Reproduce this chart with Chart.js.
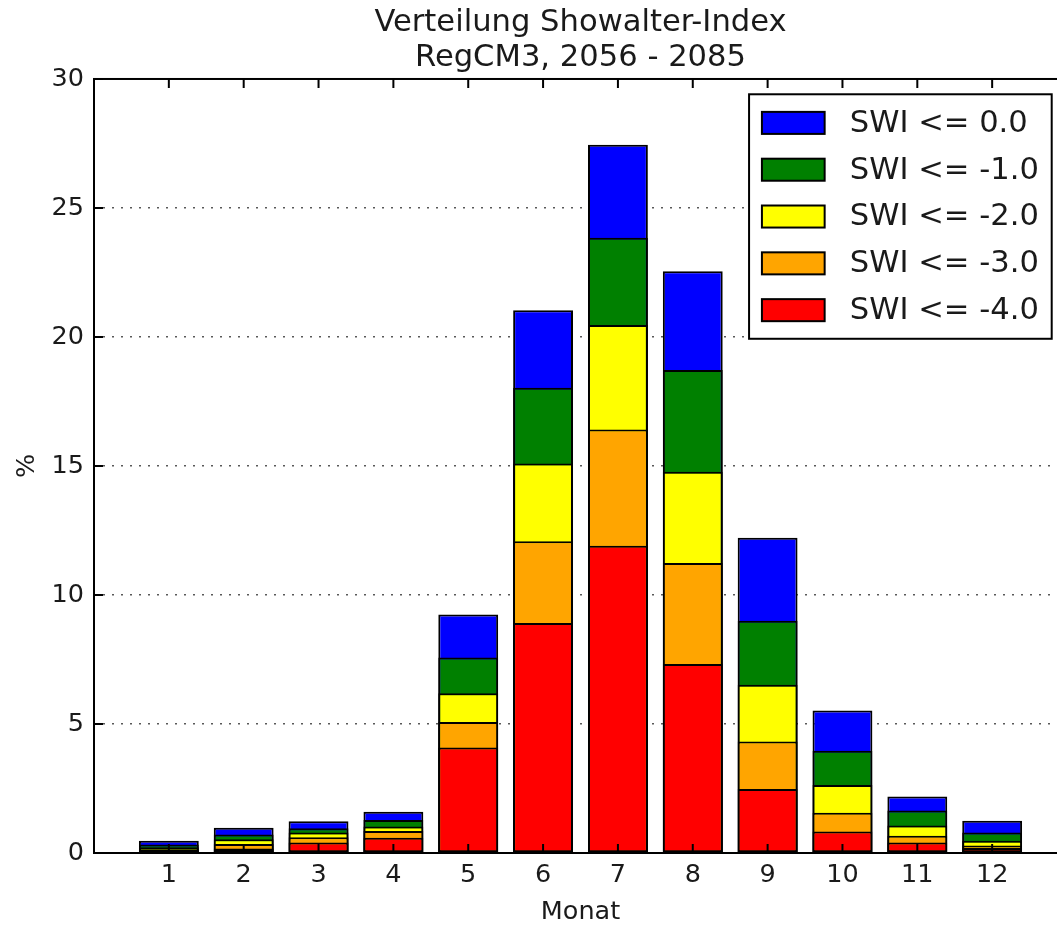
<!DOCTYPE html>
<html>
<head>
<meta charset="utf-8">
<script src="https://cdn.jsdelivr.net/npm/chart.js@4.4.1/dist/chart.umd.min.js"></script>
<style>
  html, body { margin: 0; padding: 0; background: #fff; }
  #wrap { width: 1057px; height: 928px; overflow: hidden; }
  canvas { display: block; }
</style>
</head>
<body>
<div id="wrap"><canvas id="myChart" width="1080" height="928"></canvas></div>
<script>
// Monate
const monate = [1, 2, 3, 4, 5, 6, 7, 8, 9, 10, 11, 12];
const yTicks = [0, 5, 10, 15, 20, 25, 30];

// kumulierte Anteile in % (SWI <= Schwelle)
const swi0  = [0.47, 0.98, 1.23, 1.60, 9.24, 21.04, 27.45, 22.55, 12.22, 5.52, 2.19, 1.25];
const swi1  = [0.33, 0.72, 0.96, 1.28, 7.58, 18.03, 23.85, 18.72, 9.00, 3.96, 1.65, 0.79];
const swi2  = [0.22, 0.53, 0.79, 1.03, 6.19, 15.10, 20.46, 14.78, 6.52, 2.64, 1.07, 0.47];
const swi3  = [0.15, 0.35, 0.61, 0.85, 5.08, 12.08, 16.41, 11.24, 4.32, 1.56, 0.67, 0.29];
const swi4  = [0.08, 0.17, 0.41, 0.59, 4.09, 8.91, 11.91, 7.33, 2.48, 0.83, 0.41, 0.19];

const labels = ['SWI <= 0.0', 'SWI <= -1.0', 'SWI <= -2.0', 'SWI <= -3.0', 'SWI <= -4.0'];
const werte = [swi0, swi1, swi2, swi3, swi4];
const farben = ['#0000ff', '#008000', '#ffff00', '#ffa500', '#ff0000'];

const FS = 25.5;      // Achsen-Schrift
const FS_L = 30.6;    // Titel / Legende

Chart.defaults.font.family = "'DejaVu Sans', sans-serif";
Chart.defaults.color = '#000';

// Rahmen + nach innen zeigende Ticks (wie matplotlib)
const rahmenPlugin = {
  id: 'rahmen',
  afterDatasetsDraw(chart) {
    const { ctx, chartArea: a, scales } = chart;
    ctx.save();
    ctx.strokeStyle = '#000';
    ctx.lineWidth = 2;
    ctx.beginPath();
    scales.x.ticks.forEach(t => {
      const x = scales.x.getPixelForValue(t.value);
      ctx.moveTo(x, a.bottom); ctx.lineTo(x, a.bottom - 9);
      ctx.moveTo(x, a.top); ctx.lineTo(x, a.top + 9);
    });
    scales.y.ticks.forEach(t => {
      const y = scales.y.getPixelForValue(t.value);
      ctx.moveTo(a.left, y); ctx.lineTo(a.left + 9, y);
      ctx.moveTo(a.right, y); ctx.lineTo(a.right - 9, y);
    });
    ctx.stroke();
    ctx.strokeRect(a.left, a.top, a.right - a.left, a.bottom - a.top);
    ctx.restore();
  }
};

// Legende oben rechts in der Achse
const legendePlugin = {
  id: 'legende',
  afterDraw(chart) {
    const { ctx, chartArea: a } = chart;
    const f = FS_L;
    const pad = 0.42 * f, rowH = 1.03 * f, gap = 0.5 * f;
    const hLen = 2.05 * f, hH = 0.72 * f, tPad = 0.82 * f;
    ctx.save();
    ctx.font = f + "px 'DejaVu Sans'";
    const ds = chart.data.datasets;
    const tw = Math.max(...ds.map(d => ctx.measureText(d.label).width));
    const w = pad * 2 + hLen + tPad + tw;
    const h = pad * 2 + ds.length * rowH + (ds.length - 1) * gap;
    const x0 = a.right - 0.5 * f - w;
    const y0 = a.top + 0.5 * f;
    ctx.fillStyle = '#fff';
    ctx.fillRect(x0, y0, w, h);
    ctx.lineWidth = 2;
    ctx.strokeStyle = '#000';
    ctx.strokeRect(x0, y0, w, h);
    ds.forEach((d, i) => {
      const cy = y0 + pad + i * (rowH + gap) + rowH / 2;
      ctx.fillStyle = d.backgroundColor;
      ctx.fillRect(x0 + pad, cy - hH / 2, hLen, hH);
      ctx.strokeRect(x0 + pad, cy - hH / 2, hLen, hH);
      ctx.fillStyle = '#1a1a1a';
      ctx.textBaseline = 'middle';
      ctx.fillText(d.label, x0 + pad + hLen + tPad, cy + 1);
    });
    ctx.restore();
  }
};

const datasets = labels.map((lab, i) => ({
  label: lab,
  data: monate.map((m, j) => ({ x: m, y: werte[i][j] })),
  backgroundColor: farben[i],
  borderColor: '#000',
  borderWidth: 2,
  borderSkipped: false,
  barPercentage: 0.8,
  categoryPercentage: 1.0,
  order: labels.length - i
}));

const ctx = document.getElementById('myChart').getContext('2d');
const chart = new Chart(ctx, {
  type: 'bar',
  data: { datasets },
  plugins: [rahmenPlugin, legendePlugin],
  options: {
    responsive: false,
    animation: false,
    devicePixelRatio: 1,
    layout: { padding: { left: 0, right: 13, top: 0, bottom: 0 } },
    plugins: {
      legend: { display: false },
      tooltip: { enabled: false },
      title: {
        display: true,
        fullSize: false,
        text: ['Verteilung Showalter-Index', 'RegCM3, 2056 - 2085'],
        color: '#1a1a1a',
        font: { size: FS_L, weight: 'normal', lineHeight: 1.15 },
        padding: { top: 5, bottom: 3.6 }
      }
    },
    scales: {
      x: {
        type: 'linear',
        offset: false,
        stacked: true,
        min: 0,
        max: 13,
        afterBuildTicks: s => { s.ticks = monate.map(v => ({ value: v })); },
        afterFit: s => { s.height = 75; },
        grid: { display: false, drawTicks: false, offset: false },
        border: { display: false },
        ticks: { autoSkip: false, padding: 7, color: '#1a1a1a', font: { size: FS }, maxRotation: 0 },
        title: { display: true, text: 'Monat', color: '#1a1a1a', font: { size: FS }, padding: { top: 0, bottom: 0 } }
      },
      y: {
        stacked: false,
        min: 0,
        max: 30,
        afterBuildTicks: s => { s.ticks = yTicks.map(v => ({ value: v })); },
        afterFit: s => { s.width = 94; },
        grid: {
          drawTicks: false,
          color: c => (c.tick && (c.tick.value === 0 || c.tick.value === 30)) ? 'rgba(0,0,0,0)' : 'rgba(0,0,0,0.65)',
          lineWidth: 1.5
        },
        border: { display: false, dash: [2, 7] },
        ticks: { padding: 10, color: '#1a1a1a', font: { size: FS } },
        title: { display: true, text: '%', color: '#1a1a1a', font: { size: FS }, padding: { top: 12, bottom: 0 } }
      }
    }
  }
});
</script>
</body>
</html>
